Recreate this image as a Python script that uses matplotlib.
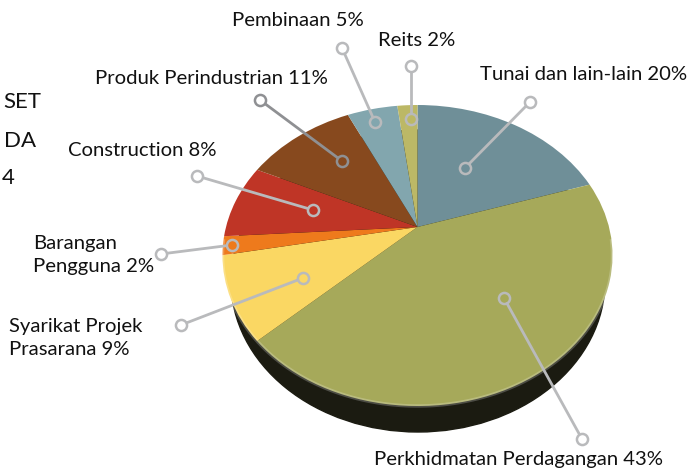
import numpy as np
import matplotlib
matplotlib.use("Agg")
import matplotlib.pyplot as plt
from matplotlib.patches import Ellipse
from matplotlib.transforms import Transform

plt.rcParams['font.family'] = ['Lato', 'DejaVu Sans']

# slices, clockwise from 12 o'clock
sectors = ["Tunai", "Perkhidmatan", "Syarikat", "Barangan", "Construction", "Produk", "Pembinaan", "Reits"]
shares = [20, 43, 9, 2, 8, 11, 5, 2]
colours = ["#6f8f98", "#a6a95a", "#fad763", "#ee7a1c", "#bf3526", "#87491e", "#82a6ae", "#bcb866"]

labels = ["Pembinaan 5%", "Reits 2%", "Tunai dan lain-lain 20%", "Produk Perindustrian 11%",
          "Construction 8%", "Barangan\nPengguna 2%", "Syarikat Projek\nPrasarana 9%",
          "Perkhidmatan Perdagangan 43%"]
heading_bits = ["SET", "DA", "4"]


# tilted disc, seen in perspective
class Tilt(Transform):
    input_dims = 2
    output_dims = 2
    is_separable = False
    has_inverse = False

    def transform_non_affine(self, xy):
        xy = np.asarray(xy, dtype=float)
        d = 1 + 0.1894 * xy[:, 1]
        return np.column_stack((417.5 + 191.5 * xy[:, 0] / d, 227 - 145.1 * xy[:, 1] / d))


fig = plt.figure(figsize=(6.93, 4.71), dpi=100)
ax = fig.add_axes([0, 0, 1, 1])

wedges, _ = ax.pie(shares, colors=colours, startangle=90, counterclock=False, radius=1)
ax.set_aspect("auto")
ax.set_xlim(0, 693)
ax.set_ylim(471, 0)
ax.axis("off")

tilt = Tilt() + ax.transData
for w in wedges:
    w.set_transform(tilt)
    w.set_zorder(2)

# thickness of the disc
ax.add_patch(Ellipse((418, 281), 374, 302, color="#1b1b11", zorder=1))

# light bevel along the front edge
t = np.linspace(np.pi * 1.03, np.pi * 1.97, 120)
ax.plot(np.cos(t), np.sin(t), color="white", alpha=0.22, lw=2.5, transform=tilt, zorder=3)

# leader lines, (outer end, inner end)
leaders = [((342, 48), (375, 122)), ((411, 66), (411, 119)), ((530, 102), (465, 168)),
           ((260, 100), (342, 161)), ((197, 176), (313, 210)), ((161, 254), (232, 245)),
           ((181, 325), (303, 278)), ((582, 439), (504, 298))]
r_ring = 5
for i, (a, b) in enumerate(leaders):
    a = np.array(a, float)
    b = np.array(b, float)
    step = (b - a) / np.hypot(*(b - a)) * r_ring
    col = "#8f9093" if i == 3 else "#b9babc"
    ax.plot([a[0] + step[0], b[0] - step[0]], [a[1] + step[1], b[1] - step[1]],
            color=col, lw=2, zorder=4, solid_capstyle="butt")
    ax.plot(a[0], a[1], "o", ms=8, mfc="white", mec=col, mew=1.8, zorder=5)
    ax.plot(b[0], b[1], "o", ms=8, mfc="none", mec=col, mew=1.8, zorder=5)

fs = 14.6
spots = [(232, 21), (378, 41), (480, 75), (95, 78), (68, 151), (33, 255), (9, 338), (374, 459)]
for s, (x, y) in zip(labels, spots):
    ax.text(x, y, s, fontsize=fs, ha="left", va="center", color="#111111", linespacing=1.38)

for s, x, y, ha in zip(heading_bits, [3, 36, 2], [102, 141, 178], ["left", "right", "left"]):
    ax.text(x, y, s, fontsize=16, ha=ha, va="center", color="#111111")

fig.savefig("out.png", dpi=100)
